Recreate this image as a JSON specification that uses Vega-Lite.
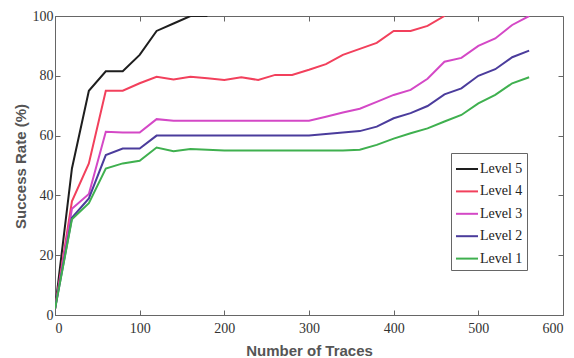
{
  "$schema": "https://vega.github.io/schema/vega-lite/v6.json",
  "width": 508,
  "height": 299,
  "autosize": "none",
  "padding": {"left": 55, "top": 16, "right": 11, "bottom": 43},
  "background": "white",
  "config": {
    "view": {"stroke": "#666", "strokeWidth": 1},
    "axis": {
      "grid": false,
      "domainColor": "#666",
      "tickColor": "#666",
      "labelFont": "Liberation Serif",
      "labelFontSize": 14,
      "labelColor": "#333",
      "titleFont": "Liberation Sans",
      "titleFontWeight": "bold",
      "titleFontSize": 15,
      "titleColor": "#555"
    }
  },
  "data": {
    "values": [
      {"level": "Level 5", "traces": 0, "rate": 2},
      {"level": "Level 5", "traces": 20, "rate": 49},
      {"level": "Level 5", "traces": 40, "rate": 75},
      {"level": "Level 5", "traces": 60, "rate": 81.5},
      {"level": "Level 5", "traces": 80, "rate": 81.5},
      {"level": "Level 5", "traces": 100, "rate": 87},
      {"level": "Level 5", "traces": 120, "rate": 95},
      {"level": "Level 5", "traces": 140, "rate": 97.5},
      {"level": "Level 5", "traces": 160, "rate": 100},
      {"level": "Level 5", "traces": 180, "rate": 100},

      {"level": "Level 4", "traces": 0, "rate": 2},
      {"level": "Level 4", "traces": 20, "rate": 38},
      {"level": "Level 4", "traces": 40, "rate": 50.7},
      {"level": "Level 4", "traces": 60, "rate": 75},
      {"level": "Level 4", "traces": 80, "rate": 75},
      {"level": "Level 4", "traces": 100, "rate": 77.5},
      {"level": "Level 4", "traces": 120, "rate": 79.7},
      {"level": "Level 4", "traces": 140, "rate": 78.8},
      {"level": "Level 4", "traces": 160, "rate": 79.7},
      {"level": "Level 4", "traces": 180, "rate": 79.2},
      {"level": "Level 4", "traces": 200, "rate": 78.6},
      {"level": "Level 4", "traces": 220, "rate": 79.5},
      {"level": "Level 4", "traces": 240, "rate": 78.6},
      {"level": "Level 4", "traces": 260, "rate": 80.3},
      {"level": "Level 4", "traces": 280, "rate": 80.3},
      {"level": "Level 4", "traces": 300, "rate": 82},
      {"level": "Level 4", "traces": 320, "rate": 83.9},
      {"level": "Level 4", "traces": 340, "rate": 87},
      {"level": "Level 4", "traces": 360, "rate": 89},
      {"level": "Level 4", "traces": 380, "rate": 91},
      {"level": "Level 4", "traces": 400, "rate": 95},
      {"level": "Level 4", "traces": 420, "rate": 95},
      {"level": "Level 4", "traces": 440, "rate": 96.7},
      {"level": "Level 4", "traces": 460, "rate": 100},

      {"level": "Level 3", "traces": 0, "rate": 2},
      {"level": "Level 3", "traces": 20, "rate": 35.5},
      {"level": "Level 3", "traces": 40, "rate": 40.5},
      {"level": "Level 3", "traces": 60, "rate": 61.3},
      {"level": "Level 3", "traces": 80, "rate": 61},
      {"level": "Level 3", "traces": 100, "rate": 61},
      {"level": "Level 3", "traces": 120, "rate": 65.5},
      {"level": "Level 3", "traces": 140, "rate": 65},
      {"level": "Level 3", "traces": 160, "rate": 65},
      {"level": "Level 3", "traces": 180, "rate": 65},
      {"level": "Level 3", "traces": 200, "rate": 65},
      {"level": "Level 3", "traces": 220, "rate": 65},
      {"level": "Level 3", "traces": 240, "rate": 65},
      {"level": "Level 3", "traces": 260, "rate": 65},
      {"level": "Level 3", "traces": 280, "rate": 65},
      {"level": "Level 3", "traces": 300, "rate": 65},
      {"level": "Level 3", "traces": 320, "rate": 66.3},
      {"level": "Level 3", "traces": 340, "rate": 67.7},
      {"level": "Level 3", "traces": 360, "rate": 69},
      {"level": "Level 3", "traces": 380, "rate": 71.3},
      {"level": "Level 3", "traces": 400, "rate": 73.6},
      {"level": "Level 3", "traces": 420, "rate": 75.3},
      {"level": "Level 3", "traces": 440, "rate": 79},
      {"level": "Level 3", "traces": 460, "rate": 84.7},
      {"level": "Level 3", "traces": 480, "rate": 86},
      {"level": "Level 3", "traces": 500, "rate": 90},
      {"level": "Level 3", "traces": 520, "rate": 92.5},
      {"level": "Level 3", "traces": 540, "rate": 97},
      {"level": "Level 3", "traces": 560, "rate": 100},

      {"level": "Level 2", "traces": 0, "rate": 2},
      {"level": "Level 2", "traces": 20, "rate": 32.5},
      {"level": "Level 2", "traces": 40, "rate": 39},
      {"level": "Level 2", "traces": 60, "rate": 53.5},
      {"level": "Level 2", "traces": 80, "rate": 55.7},
      {"level": "Level 2", "traces": 100, "rate": 55.7},
      {"level": "Level 2", "traces": 120, "rate": 60},
      {"level": "Level 2", "traces": 140, "rate": 60},
      {"level": "Level 2", "traces": 160, "rate": 60},
      {"level": "Level 2", "traces": 180, "rate": 60},
      {"level": "Level 2", "traces": 200, "rate": 60},
      {"level": "Level 2", "traces": 220, "rate": 60},
      {"level": "Level 2", "traces": 240, "rate": 60},
      {"level": "Level 2", "traces": 260, "rate": 60},
      {"level": "Level 2", "traces": 280, "rate": 60},
      {"level": "Level 2", "traces": 300, "rate": 60},
      {"level": "Level 2", "traces": 320, "rate": 60.5},
      {"level": "Level 2", "traces": 340, "rate": 61},
      {"level": "Level 2", "traces": 360, "rate": 61.5},
      {"level": "Level 2", "traces": 380, "rate": 63},
      {"level": "Level 2", "traces": 400, "rate": 65.8},
      {"level": "Level 2", "traces": 420, "rate": 67.5},
      {"level": "Level 2", "traces": 440, "rate": 69.9},
      {"level": "Level 2", "traces": 460, "rate": 73.8},
      {"level": "Level 2", "traces": 480, "rate": 75.8},
      {"level": "Level 2", "traces": 500, "rate": 80},
      {"level": "Level 2", "traces": 520, "rate": 82.2},
      {"level": "Level 2", "traces": 540, "rate": 86.2},
      {"level": "Level 2", "traces": 560, "rate": 88.4},

      {"level": "Level 1", "traces": 0, "rate": 2},
      {"level": "Level 1", "traces": 20, "rate": 32},
      {"level": "Level 1", "traces": 40, "rate": 37.4},
      {"level": "Level 1", "traces": 60, "rate": 49},
      {"level": "Level 1", "traces": 80, "rate": 50.7},
      {"level": "Level 1", "traces": 100, "rate": 51.6},
      {"level": "Level 1", "traces": 120, "rate": 56},
      {"level": "Level 1", "traces": 140, "rate": 54.8},
      {"level": "Level 1", "traces": 160, "rate": 55.5},
      {"level": "Level 1", "traces": 180, "rate": 55.3},
      {"level": "Level 1", "traces": 200, "rate": 55},
      {"level": "Level 1", "traces": 220, "rate": 55},
      {"level": "Level 1", "traces": 240, "rate": 55},
      {"level": "Level 1", "traces": 260, "rate": 55},
      {"level": "Level 1", "traces": 280, "rate": 55},
      {"level": "Level 1", "traces": 300, "rate": 55},
      {"level": "Level 1", "traces": 320, "rate": 55},
      {"level": "Level 1", "traces": 340, "rate": 55},
      {"level": "Level 1", "traces": 360, "rate": 55.3},
      {"level": "Level 1", "traces": 380, "rate": 56.9},
      {"level": "Level 1", "traces": 400, "rate": 59},
      {"level": "Level 1", "traces": 420, "rate": 60.8},
      {"level": "Level 1", "traces": 440, "rate": 62.4},
      {"level": "Level 1", "traces": 460, "rate": 64.7},
      {"level": "Level 1", "traces": 480, "rate": 66.9},
      {"level": "Level 1", "traces": 500, "rate": 70.8},
      {"level": "Level 1", "traces": 520, "rate": 73.6},
      {"level": "Level 1", "traces": 540, "rate": 77.5},
      {"level": "Level 1", "traces": 560, "rate": 79.5}
    ]
  },
  "layer": [
    {
      "mark": {"type": "line", "strokeWidth": 2, "clip": true},
      "encoding": {
        "x": {
          "field": "traces", "type": "quantitative",
          "scale": {"domain": [0, 600], "nice": false},
          "axis": {
            "orient": "bottom", "values": [0, 100, 200, 300, 400, 500, 600],
            "title": "Number of Traces", "tickSize": -5, "labelPadding": 11,
            "titleY": 28, "titleBaseline": "top"
          }
        },
        "y": {
          "field": "rate", "type": "quantitative",
          "scale": {"domain": [0, 100], "nice": false},
          "axis": {
            "orient": "left", "values": [0, 20, 40, 60, 80, 100],
            "title": "Success Rate (%)", "tickSize": -5, "labelPadding": 7,
            "titleX": -35, "titleY": 150, "titleBaseline": "middle", "titleAngle": 270
          }
        },
        "color": {
          "field": "level", "type": "nominal",
          "scale": {
            "domain": ["Level 5", "Level 4", "Level 3", "Level 2", "Level 1"],
            "range": ["#1e1e1e", "#f2405c", "#d448c6", "#4b3c9c", "#3fb04f"]
          },
          "legend": {
            "orient": "none", "legendX": 396, "legendY": 137,
            "title": null,
            "symbolType": "stroke", "symbolStrokeWidth": 2, "symbolSize": 484,
            "labelFont": "Liberation Serif", "labelFontSize": 14, "labelColor": "#222",
            "labelOffset": 1, "rowPadding": 3.4,
            "strokeColor": "#666", "fillColor": "white", "padding": 4
          }
        }
      }
    },
    {
      "mark": {"type": "line", "opacity": 0},
      "encoding": {
        "x": {
          "field": "traces", "type": "quantitative",
          "axis": {"orient": "top", "values": [100, 200, 300, 400, 500], "labels": false, "title": null, "tickSize": -5, "domain": false}
        },
        "y": {
          "field": "rate", "type": "quantitative",
          "axis": {"orient": "right", "values": [20, 40, 60, 80], "labels": false, "title": null, "tickSize": -5, "domain": false}
        },
        "detail": {"field": "level", "type": "nominal"}
      }
    }
  ],
  "resolve": {"axis": {"x": "independent", "y": "independent"}}
}
